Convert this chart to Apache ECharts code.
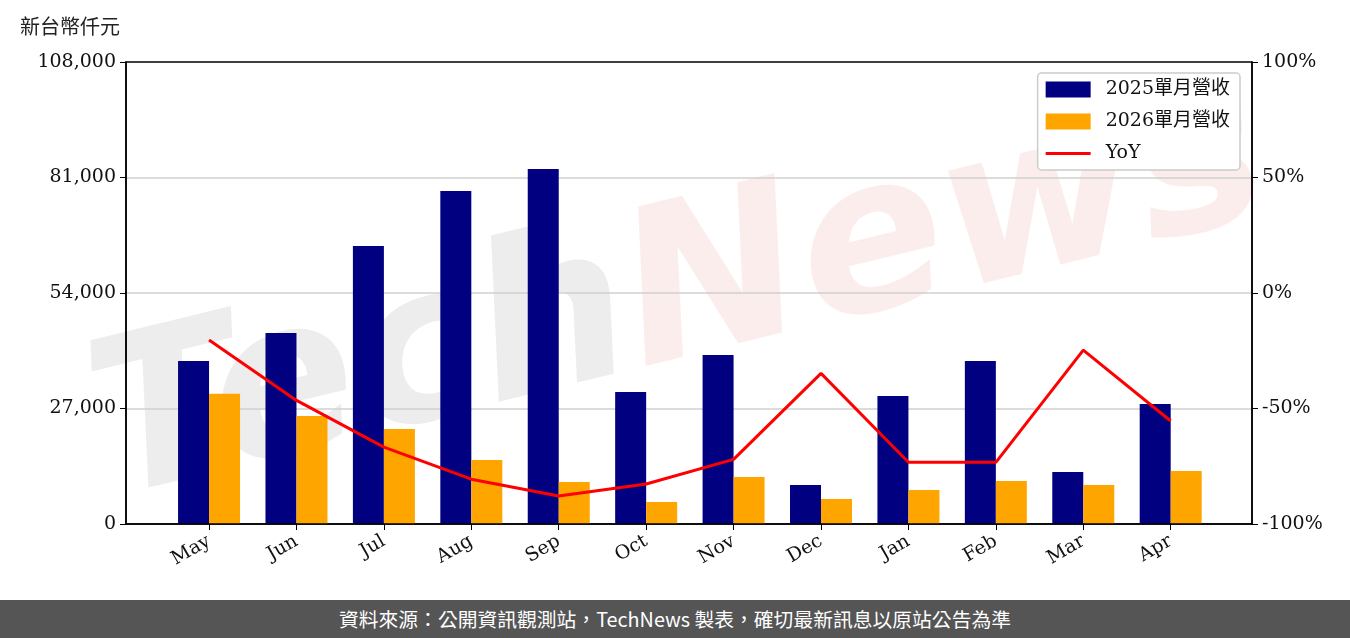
<!DOCTYPE html>
<html>
<head>
<meta charset="utf-8">
<script src="https://cdn.jsdelivr.net/npm/echarts@6/dist/echarts.min.js"></script>
<style>
html,body{margin:0;padding:0;background:#fff;}
#chart{width:1350px;height:600px;}
#footer{width:1350px;height:38px;background:#555555;color:#fff;font-family:"Noto Sans CJK TC","Noto Sans",sans-serif;font-size:19.8px;line-height:38px;text-align:center;}
</style>
</head>
<body>
<div id="chart"></div>
<div id="footer">資料來源：公開資訊觀測站，TechNews 製表，確切最新訊息以原站公告為準</div>
<script>
const months = ['May','Jun','Jul','Aug','Sep','Oct','Nov','Dec','Jan','Feb','Mar','Apr'];
const rev2025 = [38100, 44650, 64990, 77850, 82990, 30860, 39510, 9120, 29920, 38100, 12160, 28050];
const rev2026 = [30460, 25250, 22210, 14960, 9820, 5140, 10990, 5840, 7950, 10050, 9120, 12390];
const yoy = [-20.3, -46.5, -66.7, -80.6, -87.9, -82.7, -72.0, -34.8, -73.3, -73.3, -24.7, -55.4];
const leftTicks = [0, 27000, 54000, 81000, 108000];
const rightTicks = [-100, -50, 0, 50, 100];

const idx = months.map((m, i) => i);
const serif = '"DejaVu Serif","Noto Sans CJK TC",serif';
const chart = echarts.init(document.getElementById('chart'));
chart.setOption({
  animation: false,
  graphic: [
    {type:'text', left:20, top:16, style:{text:'新台幣仟元', font:'20px "Noto Sans CJK TC", sans-serif', fill:'#222'}},
    {type:'text', x:680, y:300, rotation:0.24, z:-10, silent:true,
      style:{text:'{a|Tech}{b|News}', textAlign:'center', textVerticalAlign:'middle',
        rich:{
          a:{font:'italic bold 215px "DejaVu Sans", sans-serif', fill:'rgba(175,175,175,0.22)'},
          b:{font:'italic bold 215px "DejaVu Sans", sans-serif', fill:'rgba(235,140,140,0.16)'}
        }}}
  ],
  grid: {left:126, right:98, top:62, bottom:76, containLabel:false, show:true, borderColor:'#000', borderWidth:1.5, z:3},
  legend: {
    right: 110, top: 73,
    orient: 'vertical',
    backgroundColor:'#fff', borderColor:'#ccc', borderWidth:1.5, borderRadius:4,
    padding:[7,10,7,8], itemGap:13, itemWidth:45, itemHeight:16,
    textStyle:{fontFamily:serif, fontSize:19, color:'#111', padding:[0,0,0,10]},
    data:[
      {name:'2025單月營收', icon:'rect'},
      {name:'2026單月營收', icon:'rect'},
      {name:'YoY', icon:'path://M0,6.5 L45,6.5 L45,9.5 L0,9.5 Z'}
    ]
  },
  xAxis: {
    type:'value', min:-0.95, max:11.93,
    splitLine:{show:false},
    axisLine:{onZero:false, lineStyle:{color:'#000', width:1.5}},
    axisTick:{show:true, customValues: idx, length:6, lineStyle:{color:'#000'}},
    axisLabel:{customValues: idx, rotate:30, fontFamily:serif, fontSize:19, color:'#111', margin:16,
      formatter: v => months[Math.round(v)] || ''}
  },
  yAxis: [
    {type:'value', min:0, max:108000, interval:27000,
      axisLine:{show:true, onZero:false, lineStyle:{color:'#000', width:1.5}},
      axisTick:{show:true, length:6, lineStyle:{color:'#000'}},
      splitLine:{showMaxLine:false, showMinLine:false, lineStyle:{color:'#d0d0d0', width:1.5}},
      axisLabel:{fontFamily:serif, fontSize:19, color:'#111', margin:10,
        formatter:v => leftTicks.includes(v) ? v.toLocaleString('en-US') : ''}},
    {type:'value', min:-100, max:100, interval:50, position:'right',
      axisLine:{show:true, onZero:false, lineStyle:{color:'#000', width:1.5}},
      axisTick:{show:true, length:6, lineStyle:{color:'#000'}},
      splitLine:{show:false},
      axisLabel:{fontFamily:serif, fontSize:19, color:'#111', margin:10,
        formatter:v => rightTicks.includes(v) ? v + '%' : ''}}
  ],
  series: [
    {name:'2025單月營收', type:'bar', data:rev2025.map((v,i)=>[i,v]), barWidth:31, barGap:'0%', itemStyle:{color:'#000080'}},
    {name:'2026單月營收', type:'bar', data:rev2026.map((v,i)=>[i,v]), barWidth:31, barGap:'0%', itemStyle:{color:'#FFA500'}},
    {name:'YoY', type:'line', yAxisIndex:1, data:yoy.map((v,i)=>[i,v]), symbol:'none', lineStyle:{color:'#FF0000', width:3}, itemStyle:{color:'#FF0000'}, z:5}
  ]
});
</script>
</body>
</html>
